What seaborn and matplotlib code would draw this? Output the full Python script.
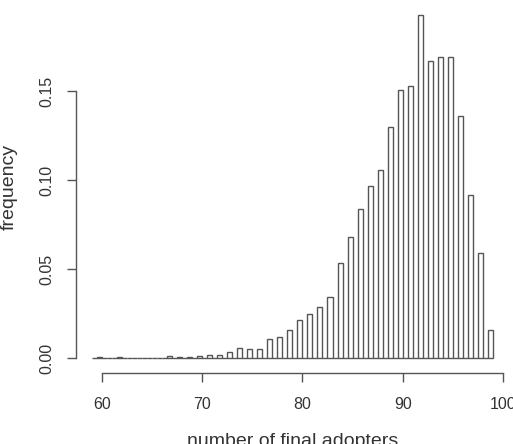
import pandas as pd
import matplotlib
matplotlib.use('Agg')
import matplotlib.pyplot as plt
import seaborn as sns

# final adopter counts and their (density) heights
adopters = [60, 62, 67, 68, 69, 70, 71, 72, 73, 74, 75, 76, 77, 78, 79,
            80, 81, 82, 83, 84, 85, 86, 87, 88, 89, 90, 91, 92, 93, 94,
            95, 96, 97, 98, 99]
frequency = [0.0008, 0.0008, 0.0012, 0.0006, 0.0006, 0.0010, 0.0018, 0.0020, 0.0035, 0.0060,
             0.0054, 0.0054, 0.0105, 0.0120, 0.0160, 0.0216, 0.0250, 0.0289, 0.0345, 0.0533,
             0.0678, 0.0840, 0.0967, 0.1056, 0.1300, 0.1506, 0.1528, 0.1928, 0.1672, 0.1694,
             0.1689, 0.1360, 0.0917, 0.0590, 0.0160]
x_ticks = [60, 70, 80, 90, 100]
y_ticks = [0.00, 0.05, 0.10, 0.15]
y_tick_labels = ['0.00', '0.05', '0.10', '0.15']

df = pd.DataFrame({'adopters': adopters, 'frequency': frequency})

sns.set_style('ticks')
plt.rcParams['font.family'] = ['Liberation Sans', 'DejaVu Sans']
text_color = '#333333'

fig = plt.figure(figsize=(5.13, 4.44), dpi=100)
ax = fig.add_axes([0.148, 0.16, 0.844, 0.838])

# half-unit breaks, nudged so each integer falls in (k - 0.5, k] like R's hist()
sns.histplot(data=df, x='adopters', weights='frequency', binwidth=0.5,
             binrange=(59 + 1e-6, 99 + 1e-6), stat='count',
             color='white', edgecolor='#555555', linewidth=1.0, alpha=1.0, ax=ax)

ax.set_xlim(57.4, 100.6)
ax.set_ylim(-0.0083, 0.2007)
ax.set_xticks(x_ticks)
ax.set_yticks(y_ticks)
ax.set_yticklabels(y_tick_labels, rotation=90, va='center')

for side in ['top', 'right']:
    ax.spines[side].set_visible(False)
ax.spines['bottom'].set_bounds(60, 100)
ax.spines['left'].set_bounds(0, 0.15)
for side in ['bottom', 'left']:
    ax.spines[side].set_color('#555555')
    ax.spines[side].set_linewidth(1.0)

ax.tick_params(axis='both', direction='out', length=6.5, width=1.0, color='#555555',
               labelsize=11.5, labelcolor=text_color)
ax.tick_params(axis='x', pad=11)
ax.tick_params(axis='y', pad=9)

ax.set_xlabel('number of final adopters', fontsize=14, color=text_color)
ax.set_ylabel('frequency', fontsize=14, color=text_color)
ax.xaxis.set_label_coords(0.5, -0.161)
ax.yaxis.set_label_coords(-0.134, 0.50)

fig.savefig('out.png', dpi=100)
